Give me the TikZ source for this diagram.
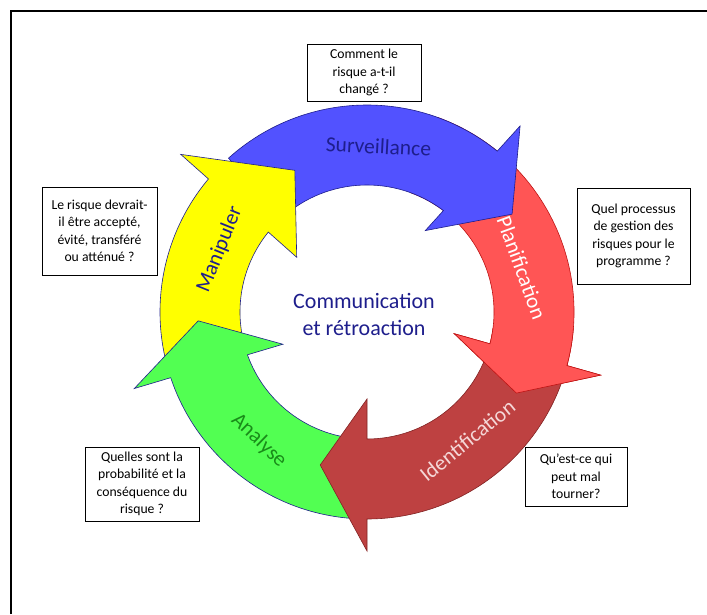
\documentclass[tikz,border=0pt]{standalone}
\usepackage{fontspec}
\setmainfont{Carlito}
\usetikzlibrary{calc}
\definecolor{bleu}{RGB}{82,82,255}
\definecolor{rouge}{RGB}{255,85,85}
\definecolor{brique}{RGB}{190,65,65}
\definecolor{vert}{RGB}{82,255,82}
\definecolor{jaune}{RGB}{255,255,0}
\definecolor{marine}{RGB}{30,30,140}
\definecolor{rougefonce}{RGB}{190,20,20}
\definecolor{briquefonce}{RGB}{130,35,35}
\definecolor{vertfonce}{RGB}{25,140,25}
\definecolor{rose}{RGB}{245,215,215}
\begin{document}
\begin{tikzpicture}[x=1pt,y=1pt,
  boite/.style={draw,line width=0.8pt,align=center,inner sep=0pt,
    font=\fontsize{13.7}{17.5}\selectfont},
  etiq/.style={font=\fontsize{21.5}{26}\selectfont}]
\useasboundingbox (0,0) rectangle (707,614);
\def\R{207pt}
\def\r{127pt}
\coordinate (O) at (367,302);
\draw[line width=1.2pt] (11,0)--(11,603)--(707,603);
% debut / encoche ext. / encoche int. / pointe / rayon pointe / aile int. / aile ext. / fond / trait
\def\fleche#1#2#3#4#5#6#7#8#9{%
\path ($(O)+(#3:\r)$) coordinate (ni) ($(O)+(#2:\R)$) coordinate (no);
\filldraw[fill=#8,draw=#9,line width=0.6pt,line join=miter]
  ($(O)+(#1:\R)$) arc[start angle=#1,end angle=#2,radius=\R]
  -- ($(no)!-#7pt!(ni)$) -- ($(O)+(#4:#5pt)$) -- ($(ni)!-#6pt!(no)$)
  -- (ni) arc[start angle=#3,end angle=#1,radius=\r] -- cycle;
}
\fleche{70}{-15}{-14.5}{-28.5}{170}{37}{35}{rouge}{rougefonce}
\fleche{132}{51}{53}{34}{175}{27}{34}{bleu}{marine}
\fleche{195}{140}{141}{117}{159}{38}{37}{jaune}{marine}
\fleche{-95}{-161.5}{-160.3}{-177}{169}{37}{38}{vert}{marine}
\fleche{-14}{-90}{-90}{-107}{160}{40}{32}{brique}{briquefonce}
\begin{scope}
\clip (367,0) rectangle (707,285);
\fleche{70}{-15}{-14.5}{-28.5}{170}{37}{35}{rouge}{rougefonce}
\end{scope}
% etiquettes
\node[etiq,text=marine,rotate=-3] (surv) at ($(O)+(86:166pt)$) {Surveillance};
\node[etiq,text=white,rotate=-70] (plan) at ($(O)+(16:161pt)$) {Planification};
\node[etiq,text=rose,rotate=39] (iden) at ($(O)+(-52:163pt)$) {Identification};
\node[etiq,text=vertfonce,rotate=-44] (anal) at ($(O)+(-130:168pt)$) {Analyse};
\node[etiq,text=marine,rotate=68] (mani) at ($(O)+(157:160pt)$) {Manipuler};
\node[font=\fontsize{22}{27}\selectfont,text=marine,align=center] (comm) at (364,300) {Communication\\et rétroaction};
% questions
\node[boite,minimum width=114pt,minimum height=57pt] (q1) at (364,541.5) {Comment le\\risque a-t-il\\changé ?};
\node[boite,minimum width=113pt,minimum height=96pt] (q2) at (633.5,378) {Quel processus\\de gestion des\\risques pour le\\programme ?};
\node[boite,minimum width=102pt,minimum height=59pt] (q3) at (576,137.5) {Qu'est-ce qui\\peut mal\\tourner?};
\node[boite,minimum width=114pt,minimum height=74pt] (q4) at (142,130) {Quelles sont la\\probabilité et la\\conséquence du\\risque ?};
\node[boite,minimum width=115pt,minimum height=88pt] (q5) at (99.5,383) {Le risque devrait-\\il être accepté,\\évité, transféré\\ou atténué ?};
\end{tikzpicture}
\end{document}
